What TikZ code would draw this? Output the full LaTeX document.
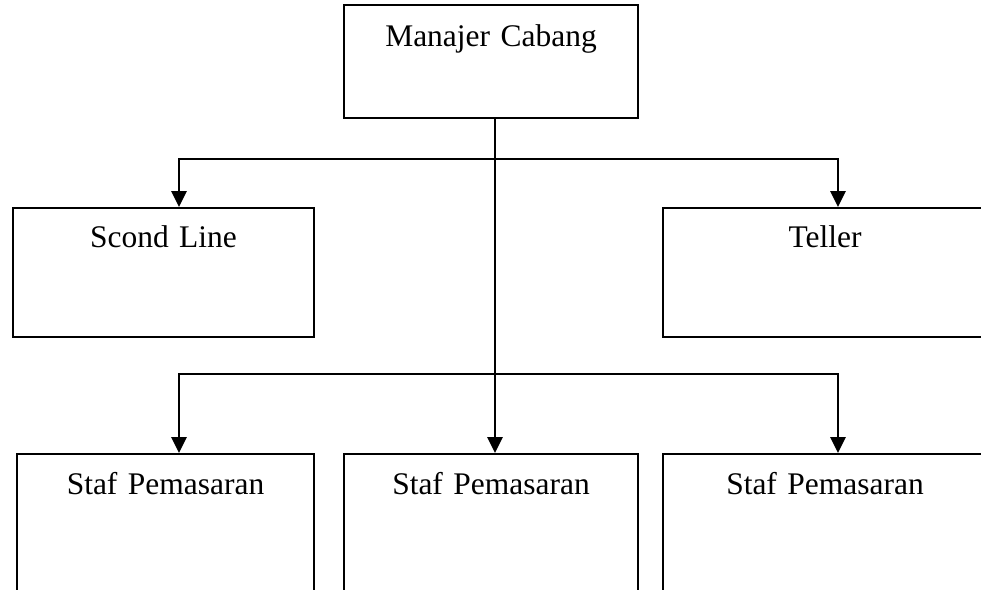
\documentclass[tikz,border=0pt]{standalone}
\usepackage{fontspec}
\setmainfont{Liberation Serif}
\usetikzlibrary{arrows.meta,calc}
\newcommand{\tikzScale}{0.75pt}
\newcommand{\jabatanFont}{\fontsize{23.6}{28}\selectfont}

\tikzset{
   jabatan/.style={draw, line width=1.4pt, inner sep=0pt, align=center,
      anchor=north, font=\jabatanFont},
   garis/.style={line width=1.4pt},
   panah/.style={garis, -{Triangle[width=11.5pt,length=12pt]}}
}

\begin{document}
\begin{tikzpicture}[x=\tikzScale, y=-\tikzScale]
         \useasboundingbox (0,0) rectangle (981,589);

         \node[jabatan, text width=220.5pt, text height=31.5pt, text depth=53.25pt]
            (manajer) at (491,4) {Manajer Cabang};

         \node[jabatan, text width=225.75pt, text height=30pt, text depth=66.75pt]
            (scond) at (163.5,207) {Scond Line};
         \node[jabatan, text width=243pt, text height=30pt, text depth=66.75pt]
            (teller) at (825,207) {Teller};

         \node[jabatan, text width=222.75pt, text height=30.75pt, text depth=109.5pt]
            (stafA) at (165.5,453) {Staf Pemasaran};
         \node[jabatan, text width=220.5pt, text height=30.75pt, text depth=109.5pt]
            (stafB) at (491,453) {Staf Pemasaran};
         \node[jabatan, text width=243pt, text height=30.75pt, text depth=109.5pt]
            (stafC) at (825,453) {Staf Pemasaran};

         \coordinate (cabang1) at ($(manajer.south)+(4,40)$);
         \coordinate (cabang2) at ($(manajer.south)+(4,255)$);

         \draw[panah] ($(manajer.south)+(4,0)$) -- ($(stafB.north)+(4,0)$);
         \draw[panah] (cabang1) -| ($(scond.north)+(15.5,0)$);
         \draw[panah] (cabang1) -| ($(teller.north)+(13,0)$);
         \draw[panah] (cabang2) -| ($(stafA.north)+(13.5,0)$);
         \draw[panah] (cabang2) -| ($(stafC.north)+(13,0)$);
      \end{tikzpicture}
\end{document}
